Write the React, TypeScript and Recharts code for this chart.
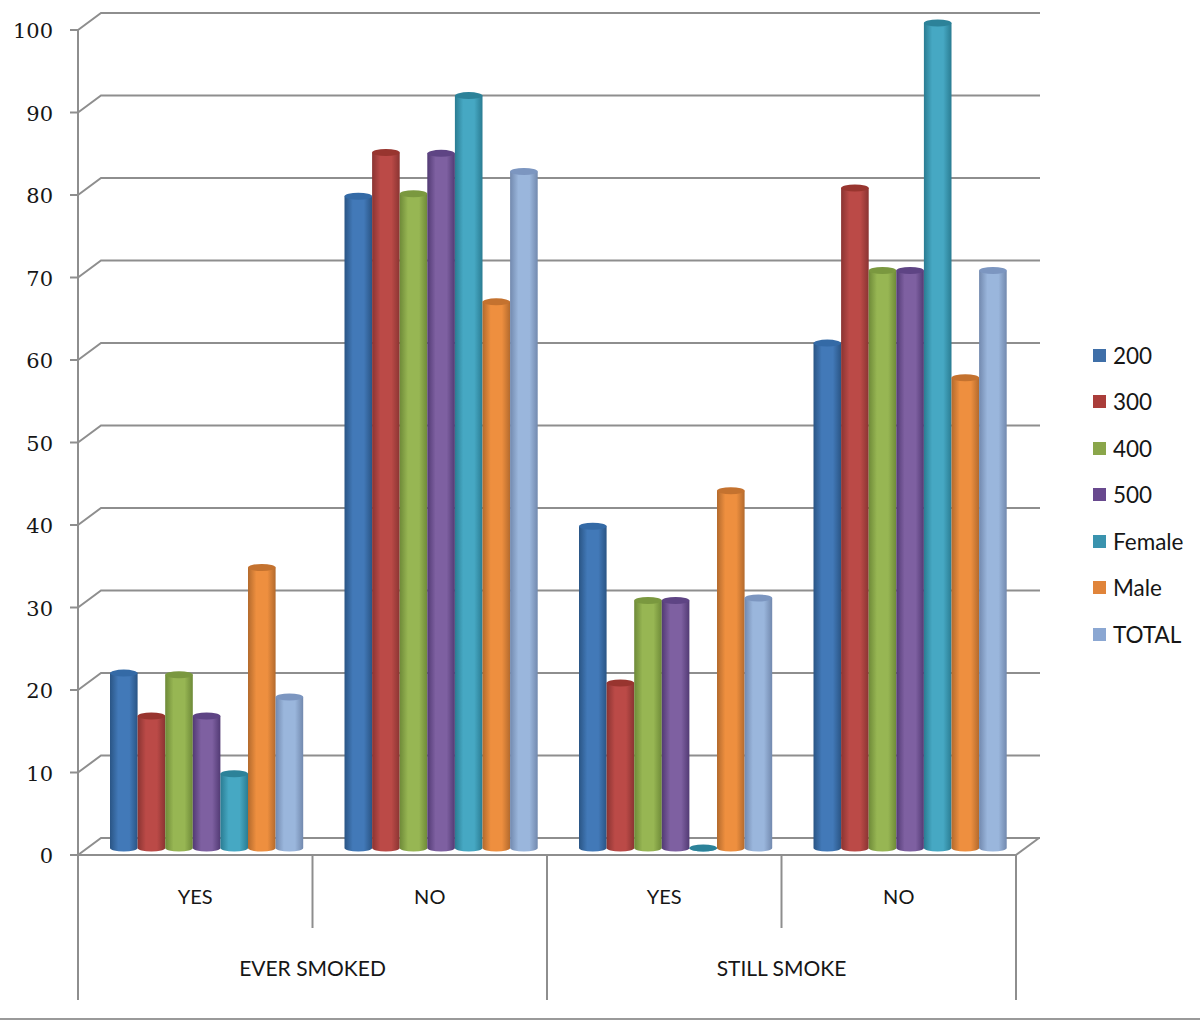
import { BarChart, Bar, XAxis, YAxis, CartesianGrid, Legend } from 'recharts'

const answers = ['YES', 'NO', 'YES', 'NO']
const groups = ['EVER SMOKED', 'EVER SMOKED', 'STILL SMOKE', 'STILL SMOKE']
const yTicks = [0, 10, 20, 30, 40, 50, 60, 70, 80, 90, 100]

const v200 = [21.2, 79, 39, 61.2]
const v300 = [16, 84.3, 20, 80]
const v400 = [21, 79.3, 30, 70]
const v500 = [16, 84.2, 30, 70]
const vFemale = [9, 91.2, 0, 100]
const vMale = [34, 66.2, 43.3, 57]
const vTotal = [18.3, 82, 30.3, 70]

const seriesNames = ['200', '300', '400', '500', 'Female', 'Male', 'TOTAL']
const seriesValues = [v200, v300, v400, v500, vFemale, vMale, vTotal]

// edge, mid, top ellipse, legend square
const seriesColors = [
  ['#2a5585', '#4279b8', '#346aa6', '#3f6fa8'],
  ['#8a3432', '#bb4a47', '#98352f', '#aa3d3a'],
  ['#6e8a38', '#97b653', '#7a983f', '#8aa64a'],
  ['#523a74', '#7e60a1', '#5e4484', '#68498e'],
  ['#2a7c92', '#46a8c3', '#2c8299', '#3a93ae'],
  ['#b36a2d', '#ee8f3f', '#c4722f', '#e0843a'],
  ['#7289ae', '#9ab6dc', '#7c96c0', '#8ba7d2'],
]

const chartData = answers.map((answer, i) => {
  const row: Record<string, string | number> = { answer, group: groups[i] }
  seriesNames.forEach((name, s) => {
    row[name] = seriesValues[s][i]
  })
  return row
})

const GRAY = '#8e8e8e'
const TEXT = '#161616'
const SANS = 'Lato, "Open Sans", sans-serif'
const PLOT_LEFT = 78
const PLOT_WIDTH = 938
const PLOT_BOTTOM = 855
const BAND = PLOT_WIDTH / 4
const DEPTH_X = 23
const DEPTH_Y = 17

function wallLine(props: any) {
  const { x1, y1, x2 } = props
  const isFloor = Math.abs(y1 - PLOT_BOTTOM) < 1
  return (
    <g key={'wall-' + y1}>
      <path
        d={`M${x1},${y1} L${x1 + DEPTH_X},${y1 - DEPTH_Y} L${x2 + DEPTH_X + 1},${y1 - DEPTH_Y}`}
        fill="none"
        stroke={GRAY}
        strokeWidth={2}
      />
      {isFloor && (
        <line x1={x2} y1={y1} x2={x2 + DEPTH_X} y2={y1 - DEPTH_Y} stroke={GRAY} strokeWidth={2} />
      )}
    </g>
  )
}

function Cylinder(props: any) {
  const { x, y, height, seriesIndex } = props
  // recharts rounds the bar size to 28, the bars here are a little narrower
  const w = props.width - 0.4
  const left = x + 11.3 - seriesIndex * 0.4
  const top = y - 7
  const rx = w / 2
  const ry = 3.5
  const bottom = top + height
  return (
    <g>
      <path
        d={`M${left},${top} L${left},${bottom} A${rx},${ry} 0 0 0 ${left + w},${bottom} L${left + w},${top} Z`}
        fill={`url(#cyl${seriesIndex})`}
      />
      <ellipse cx={left + rx} cy={top} rx={rx} ry={ry} fill={seriesColors[seriesIndex][2]} />
    </g>
  )
}

function AnswerTick(props: any) {
  const { x, y, index, payload } = props
  const right = x + BAND / 2
  return (
    <g>
      <text x={x} y={y + 41} textAnchor="middle" fontFamily={SANS} fontSize={20} fill={TEXT}>
        {answers[index] ?? payload.value}
      </text>
      {index % 2 === 0 && (
        <line x1={right} y1={PLOT_BOTTOM} x2={right} y2={928} stroke={GRAY} strokeWidth={2} />
      )}
    </g>
  )
}

function GroupTick(props: any) {
  const { x, index } = props
  const right = x + BAND / 2
  return (
    <g>
      {index === 0 && (
        <line x1={PLOT_LEFT} y1={PLOT_BOTTOM} x2={PLOT_LEFT} y2={1000} stroke={GRAY} strokeWidth={2} />
      )}
      {index % 2 === 0 && (
        <text x={right} y={976} textAnchor="middle" fontFamily={SANS} fontSize={21} fill={TEXT}>
          {groups[index]}
        </text>
      )}
      {index % 2 === 1 && (
        <line x1={right} y1={PLOT_BOTTOM} x2={right} y2={1000} stroke={GRAY} strokeWidth={2} />
      )}
    </g>
  )
}

function LegendList({ payload }: any) {
  return (
    <div>
      {(payload ?? []).map((item: any) => (
        <div
          key={item.value}
          style={{ height: 46.5, display: 'flex', alignItems: 'center', fontFamily: SANS, fontSize: 22.5, color: TEXT }}
        >
          <span style={{ width: 13, height: 13, background: item.color, marginRight: 7, flex: 'none' }} />
          {item.value}
        </div>
      ))}
    </div>
  )
}

export default function App() {
  return (
    <div style={{ position: 'absolute', left: 0, top: 0, width: 1200, height: 1021, background: '#fff', overflow: 'hidden' }}>
      <BarChart
        width={1200}
        height={1021}
        data={chartData}
        margin={{ top: 30, right: 77, bottom: 21, left: 0 }}
        barCategoryGap={20.7}
        barGap={0}
      >
        <defs>
          {seriesColors.map((c, i) => (
            <linearGradient key={i} id={`cyl${i}`} x1="0" y1="0" x2="1" y2="0">
              <stop offset="0%" stopColor={c[0]} />
              <stop offset="30%" stopColor={c[1]} />
              <stop offset="70%" stopColor={c[1]} />
              <stop offset="100%" stopColor={c[0]} />
            </linearGradient>
          ))}
        </defs>
        <CartesianGrid vertical={false} horizontal={wallLine} />
        <XAxis
          dataKey="answer"
          xAxisId={0}
          height={73}
          interval={0}
          tick={AnswerTick}
          tickLine={false}
          axisLine={{ stroke: GRAY, strokeWidth: 2 }}
        />
        <XAxis
          dataKey="group"
          xAxisId="group"
          height={72}
          interval={0}
          tick={GroupTick}
          tickLine={false}
          axisLine={false}
        />
        <YAxis
          type="number"
          domain={[0, 100]}
          ticks={yTicks}
          width={78}
          interval={0}
          tickSize={8}
          tickMargin={17}
          tick={{ fontFamily: '"DejaVu Serif", serif', fontSize: 21, fill: TEXT, dy: 1 }}
          tickLine={{ stroke: GRAY, strokeWidth: 2 }}
          axisLine={{ stroke: GRAY, strokeWidth: 2 }}
        />
        <Legend
          layout="vertical"
          align="right"
          verticalAlign="middle"
          width={107}
          itemSorter={null}
          content={LegendList}
          wrapperStyle={{ left: 1093, top: 332, width: 107 }}
        />
        {seriesNames.map((name, i) => (
          <Bar
            key={name}
            dataKey={name}
            xAxisId={0}
            fill={seriesColors[i][3]}
            isAnimationActive={false}
            shape={(p: any) => <Cylinder {...p} seriesIndex={i} />}
          />
        ))}
      </BarChart>
      <div style={{ position: 'absolute', left: 0, top: 1018, width: 1200, height: 2, background: '#9a9a9a' }} />
    </div>
  )
}
